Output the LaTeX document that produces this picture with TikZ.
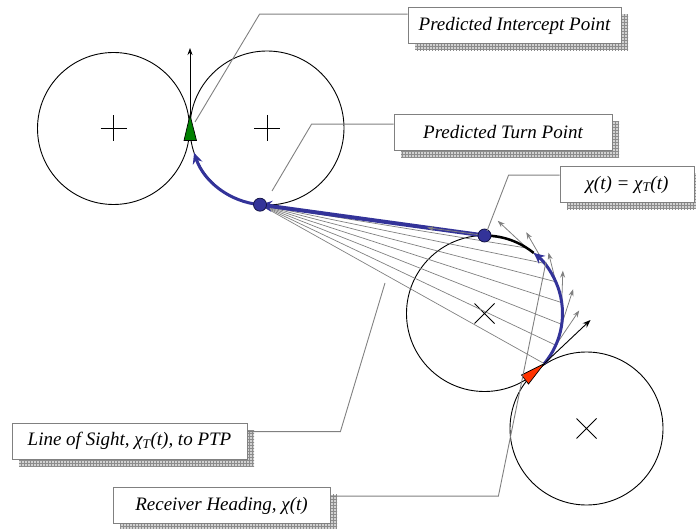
\documentclass[tikz,border=0pt]{standalone}
\usepackage{fontspec}
\setmainfont{Liberation Serif}
\usetikzlibrary{arrows.meta}
\usetikzlibrary{calc}
\usetikzlibrary{shadows}
\usetikzlibrary{patterns}
\tikzset{>=latex}
\definecolor{pathblue}{RGB}{51,51,153}
\definecolor{dotrim}{RGB}{20,20,70}
\definecolor{targetgreen}{RGB}{0,128,0}
\definecolor{receiverred}{RGB}{255,51,0}
\tikzstyle{ringline}=[draw=black,line width=0.9pt]
\tikzstyle{sightline}=[draw=gray,line width=0.7pt]
\tikzstyle{headarrow}=[draw=gray,line width=0.8pt,-{Stealth[length=7pt,width=5pt]}]
\tikzstyle{leaderline}=[draw=gray,line width=0.9pt]
\tikzstyle{bluepath}=[draw=pathblue,line width=3pt]
\tikzstyle{callout}=[draw=gray,line width=0.8pt,fill=white,inner sep=0pt,minimum height=36pt,
  font=\itshape\fontsize{19}{22}\selectfont,
  general shadow={shadow xshift=7pt,shadow yshift=-7pt,fill=gray!35},
  general shadow={shadow xshift=7pt,shadow yshift=-7pt,pattern=grid,pattern color=gray!90}]
\newcommand{\plusmark}[1]{\draw[line width=0.9pt] (#1) ++(-13,0) -- ++(26,0) (#1) ++(0,-13) -- ++(0,26);}
\newcommand{\crossmark}[1]{\draw[line width=0.9pt] (#1) ++(-10,-10) -- ++(20,20) (#1) ++(-10,10) -- ++(20,-20);}

\begin{document}
\begin{tikzpicture}[x=1pt,y=-1pt]
  \useasboundingbox (0,0) rectangle (696,529);

  \coordinate (cl) at (113.5,128.5);
  \coordinate (cr) at (267,128);
  \coordinate (cx) at (484.5,313.5);
  \coordinate (cb) at (586.5,428.5);
  \coordinate (ptp) at ($(cr)+(95.2:77)$);
  \coordinate (bdot) at ($(cx)+(-90:78)$);
  \coordinate (rtip) at ($(cx)+(40:78)$);

  \draw[ringline] (cl) circle (76);
  \draw[ringline] (cr) circle (77);
  \draw[ringline] (cx) circle (78);
  \draw[ringline] (cb) circle (76.5);
  \plusmark{cl}
  \plusmark{cr}
  \crossmark{cx}
  \crossmark{cb}

  % lines of sight to the PTP
  \foreach \a in {40,24,8,-8,-24,-40,-57,-73}
    \draw[sightline] (ptp) -- ($(cx)+(\a:78)$);
  % headings along the turn
  \foreach \a/\l in {24/42,8/37,-8/32,-24/30,-40/36,-57/40}
    \draw[headarrow] ($(cx)+(\a:78)$) -- ++({\a-80}:\l);

  \draw[draw=black,line width=2.5pt] ($(cx)+(-51:78)$) arc[start angle=-51,end angle=-90,radius=78];
  \draw[bluepath,-{Stealth[length=11pt,width=10pt]}] (rtip) arc[start angle=40,end angle=-51,radius=78];
  \draw[bluepath,line width=4pt,-{Stealth[length=12pt,width=11pt]}] (bdot) -- (ptp);
  \draw[headarrow] (bdot) -- ($(bdot)!0.256!(ptp)$);
  \draw[bluepath,-{Stealth[length=11pt,width=10pt]}] (ptp) arc[start angle=95.2,end angle=161.3,radius=77];

  \filldraw[fill=pathblue,draw=dotrim,line width=0.8pt] (ptp) circle (6.5);
  \filldraw[fill=pathblue,draw=dotrim,line width=0.8pt] (bdot) circle (6.5);

  \draw[line width=0.8pt,-{Stealth[length=7pt,width=5pt]}] (190,118) -- (190,48);
  \filldraw[fill=targetgreen,draw=black,line width=0.7pt] (190,115) -- (184,140.5) -- (196.5,140.5) -- cycle;

  \draw[line width=0.9pt,-{Stealth[length=8pt,width=6pt]}] (rtip) -- (590.5,320);
  \filldraw[fill=receiverred,draw=black,line width=0.7pt] (rtip) -- (521.5,375) -- (528.5,384) -- cycle;

  % callouts
  \node[callout,minimum width=213pt] (pip) at (514.5,25.5) {Predicted Intercept Point};
  \node[callout,minimum width=218pt] (ptpbox) at (503,132.5) {Predicted Turn Point};
  \node[callout,minimum width=134pt] (chibox) at (627,184.5) {χ(\textit{t}) = χ\textsubscript{\textit{T}}(\textit{t})};
  \node[callout,minimum width=235pt] (los) at (129.5,441) {Line of Sight, χ\textsubscript{\textit{T}}(\textit{t}), to PTP};
  \node[callout,minimum width=217pt] (rh) at (221.5,505.5) {Receiver Heading, χ(\textit{t})};

  \draw[leaderline] ([yshift=-7pt]pip.north west) -- ++(-148,0) -- (195,122);
  \draw[leaderline] ([yshift=-10pt]ptpbox.north west) -- ++(-82,0) -- (272,191);
  \draw[leaderline] ([yshift=-9pt]chibox.north west) -- ++(-51,0) -- (487,231);
  \draw[leaderline] ([yshift=-9pt]los.north east) -- ++(93,0) -- (385,283);
  \draw[leaderline] ([yshift=-9pt]rh.north east) -- ++(168,0) -- (546,262);
\end{tikzpicture}
\end{document}
